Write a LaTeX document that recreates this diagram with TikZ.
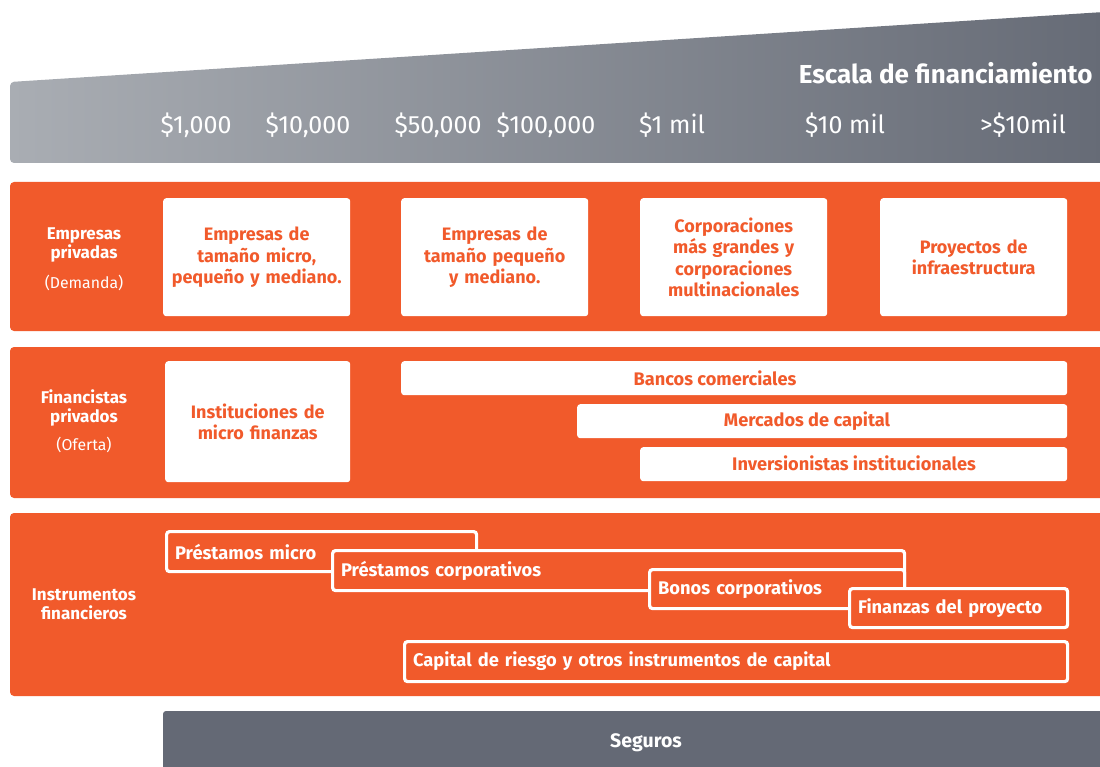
\documentclass[tikz,border=0pt]{standalone}
\usepackage{fontspec}
\setmainfont{Fira Sans}
\definecolor{org}{HTML}{F15A2B}
\definecolor{gl}{HTML}{A9ADB3}
\definecolor{gd}{HTML}{666B76}
\definecolor{seg}{HTML}{646975}
\tikzset{
  band/.style={fill=org, rounded corners=4pt},
  wbox/.style={fill=white, rounded corners=3pt, anchor=north west, inner sep=0pt,
     text=org, font=\bfseries\fontsize{18}{21.5}\selectfont, align=center},
  olbox/.style={draw=white, line width=3.2pt, fill=org, rounded corners=3pt, anchor=north west,
     inner xsep=8.5pt, inner ysep=0pt, text=white, font=\bfseries\fontsize{18.3}{20}\selectfont, align=left},
  sidelbl/.style={text=white, font=\bfseries\fontsize{17}{19.5}\selectfont, align=center},
  sidesub/.style={text=white, font=\fontsize{15.8}{18}\selectfont},
  scalelbl/.style={text=white, font=\fontsize{25}{28}\selectfont},
  barlbl/.style={text=org, font=\bfseries\fontsize{18.2}{20}\selectfont},
}
\begin{document}
\begin{tikzpicture}[x=1pt,y=-1pt]
\useasboundingbox (0,0) rectangle (1100,767);
% scale banner
\shade[left color=gl, right color=gd] (1104,163) [rounded corners=4pt] -- (10,163) -- (10,82) [sharp corners] -- (1104,12) -- cycle;
\node[text=white, font=\bfseries\fontsize{26}{30}\selectfont, anchor=east] (title) at (1096,73) {Escala de financiamiento};
\node[scalelbl] (s1) at (196,125) {\$1,000};
\node[scalelbl] (s2) at (308,125) {\$10,000};
\node[scalelbl] (s3) at (438,125) {\$50,000};
\node[scalelbl] (s4) at (546,125) {\$100,000};
\node[scalelbl] (s5) at (672,125) {\$1 mil};
\node[scalelbl] (s6) at (845,125) {\$10 mil};
\node[scalelbl] (s7) at (1023,125) {>\$10mil};
% bands
\fill[band] (10,182) rectangle (1110,331);
\fill[band] (10,347) rectangle (1110,498);
\fill[band] (10,513) rectangle (1110,696);
% left labels
\node[sidelbl] (l1) at (84,245) {Empresas\\privadas};
\node[sidesub] (l1b) at (84,283) {(Demanda)};
\node[sidelbl] (l2) at (84,408) {Financistas\\privados};
\node[sidesub] (l2b) at (84,445) {(Oferta)};
\node[sidelbl] (l3) at (84,604) {Instrumentos\\financieros};
% row 1
\node[wbox, minimum width=187pt, minimum height=118pt, text width=187pt] (d1) at (163,198) {Empresas de\\tamaño micro,\\pequeño y mediano.};
\node[wbox, minimum width=187pt, minimum height=118pt, text width=187pt] (d2) at (401,198) {Empresas de\\tamaño pequeño\\y mediano.};
\node[wbox, minimum width=187pt, minimum height=118pt, text width=187pt] (d3) at (640,198) {Corporaciones\\más grandes y\\corporaciones\\multinacionales};
\node[wbox, minimum width=187pt, minimum height=118pt, text width=187pt] (d4) at (880,198) {Proyectos de\\infraestructura};
% row 2
\node[wbox, minimum width=185pt, minimum height=121pt, text width=185pt] (f1) at (165,361) {Instituciones de\\micro finanzas};
\node[wbox, minimum width=666pt, minimum height=34pt] (f2) at (401,361) {};
\node[wbox, minimum width=490pt, minimum height=34pt] (f3) at (577,404) {};
\node[wbox, minimum width=427pt, minimum height=34pt] (f4) at (640,447) {};
\node[barlbl] (f2t) at (715,378) {Bancos comerciales};
\node[barlbl] (f3t) at (807,421) {Mercados de capital};
\node[barlbl] (f4t) at (854,463) {Inversionistas institucionales};
% row 3
\node[olbox, text width=293pt, minimum height=40pt] (i1) at (165,530) {Préstamos micro};
\node[olbox, text width=555pt, minimum height=40pt] (i2) at (331,549) {Préstamos corporativos};
\node[olbox, text width=238pt, minimum height=39pt] (i3) at (648,568) {Bonos corporativos};
\node[olbox, text width=201pt, minimum height=39pt] (i4) at (848,587) {Finanzas del proyecto};
\node[olbox, text width=646pt, minimum height=40pt] (i5) at (403,640) {Capital de riesgo y otros instrumentos de capital};
% seguros
\fill[seg, rounded corners=3pt] (163,711) rectangle (1110,780);
\node[text=white, font=\bfseries\fontsize{19.5}{22}\selectfont] (seg) at (646,743) {Seguros};
\end{tikzpicture}
\end{document}
